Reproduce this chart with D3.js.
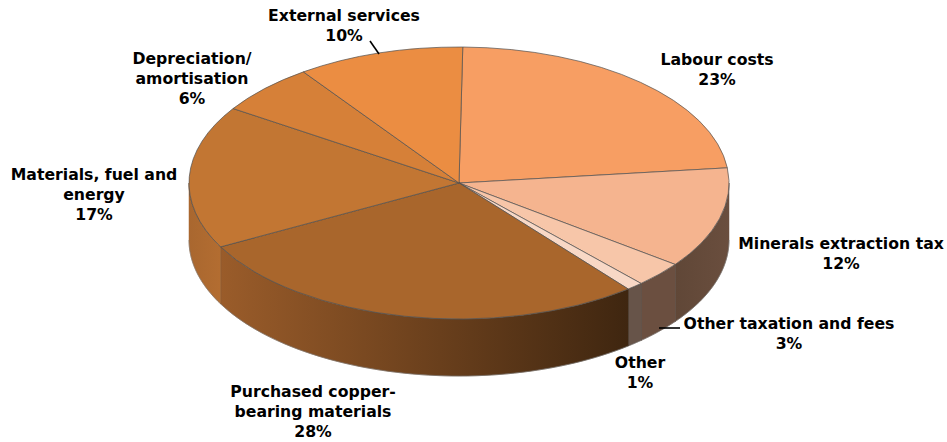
<!DOCTYPE html>
<html>
<head>
<meta charset="utf-8">
<script src="https://cdn.jsdelivr.net/npm/d3@7/dist/d3.min.js"></script>
<style>
  html, body { margin: 0; padding: 0; background: #fff; }
  svg { display: block; }
  text { font-family: "DejaVu Sans", Verdana, sans-serif; font-weight: 700; font-size: 15.7px; fill: #000; }
</style>
</head>
<body>
<svg id="chart" width="947" height="442"></svg>
<script>
// Cost structure, in percent, clockwise from the top of the disc
const categories = [
  "Labour costs", "Minerals extraction tax", "Other taxation and fees", "Other",
  "Purchased copper-bearing materials", "Materials, fuel and energy",
  "Depreciation/amortisation", "External services"
];
const shares = [23, 12, 3, 1, 28, 17, 6, 10];

const topColours = ["#F79E63", "#F5B48F", "#F7C6A9", "#F8D8C6", "#A9662C", "#C27633", "#D68038", "#EB8D42"];
const sideColours = [
  ["#654B3B", "#654B3B"], ["#604737", "#6A4E3E"], ["#6B4F40", "#6B4F40"], ["#675449", "#675449"],
  ["#9A5C2A", "#3F2610"], ["#A9672F", "#B36D31"], ["#B36D31", "#B36D31"], ["#B36D31", "#B36D31"]
];

// Label blocks: lines of text, centre x, first baseline y
const labelLines = [
  ["Labour costs", "23%"],
  ["Minerals extraction tax", "12%"],
  ["Other taxation and fees", "3%"],
  ["Other", "1%"],
  ["Purchased copper-", "bearing materials", "28%"],
  ["Materials, fuel and", "energy", "17%"],
  ["Depreciation/", "amortisation", "6%"],
  ["External services", "10%"]
];
const labelAnchors = [
  [717, 65], [841, 249], [789, 329], [640, 368],
  [313, 397], [94, 180], [192, 63.5], [344, 21]
];
const leaderLines = [
  [[370, 41], [379, 54]],
  [[659, 328], [680, 328]]
];

const cx = 459, cy = 183, rx = 270, ry = 136, depth = 57;
const lineHeight = 20;
const startAngle = 0.8 * Math.PI / 180;

const svg = d3.select("#chart");
const defs = svg.append("defs");

const pie = d3.pie().sort(null).value(d => d)
  .startAngle(startAngle).endAngle(startAngle + 2 * Math.PI);
const slices = pie(shares);

// Rim position for a clockwise angle measured from the top of the disc
const rimX = a => cx + rx * Math.sin(a);
const rimY = a => cy - ry * Math.cos(a);

const sideLayer = svg.append("g");
const frontStart = Math.PI / 2, frontEnd = 3 * Math.PI / 2;

slices.forEach((s, i) => {
  const a0 = Math.max(s.startAngle, frontStart);
  const a1 = Math.min(s.endAngle, frontEnd);
  if (a1 <= a0) return;

  const id = "side-" + i;
  defs.append("linearGradient").attr("id", id)
    .attr("gradientUnits", "userSpaceOnUse")
    .attr("x1", rimX(a1)).attr("x2", rimX(a0)).attr("y1", 0).attr("y2", 0)
    .selectAll("stop").data(sideColours[i]).join("stop")
    .attr("offset", (d, k) => k).attr("stop-color", d => d);

  const angles = d3.range(0, 61).map(k => a0 + (a1 - a0) * k / 60);
  const upper = angles.map(a => [rimX(a), rimY(a)]);
  const lower = angles.slice().reverse().map(a => [rimX(a), rimY(a) + depth]);
  const outline = d3.line()(upper.concat(lower)) + "Z";

  sideLayer.append("path").attr("d", outline)
    .attr("fill", `url(#${id})`)
    .attr("stroke", `url(#${id})`).attr("stroke-width", 0.5);

  // Curved edge along the bottom and the seam between neighbouring walls
  sideLayer.append("path").attr("d", d3.line()(lower))
    .attr("fill", "none").attr("stroke", "#777").attr("stroke-width", 0.6);
  sideLayer.append("path").attr("d", d3.line()(upper))
    .attr("fill", "none").attr("stroke", "#555").attr("stroke-width", 0.6);
  if (s.endAngle < frontEnd) {
    sideLayer.append("line")
      .attr("x1", rimX(a1)).attr("y1", rimY(a1))
      .attr("x2", rimX(a1)).attr("y2", rimY(a1) + depth)
      .attr("stroke", "#55504c").attr("stroke-width", 1);
  }
});

// Disc top: a circular arc squashed vertically into the ellipse
const arc = d3.arc().innerRadius(0).outerRadius(rx);
svg.append("g")
  .attr("transform", `translate(${cx},${cy}) scale(1,${ry / rx})`)
  .selectAll("path").data(slices).join("path")
  .attr("d", arc)
  .attr("fill", (d, i) => topColours[i])
  .attr("stroke", "#505050")
  .attr("stroke-width", 0.7)
  .attr("vector-effect", "non-scaling-stroke");

// Leader lines
svg.append("g").selectAll("path").data(leaderLines).join("path")
  .attr("d", d => d3.line()(d))
  .attr("fill", "none").attr("stroke", "#000").attr("stroke-width", 1.6);

// Category labels
const labels = svg.append("g").selectAll("text").data(labelLines).join("text")
  .attr("text-anchor", "middle")
  .attr("transform", (d, i) => `translate(${labelAnchors[i][0]},${labelAnchors[i][1]})`);
labels.selectAll("tspan").data(d => d).join("tspan")
  .attr("x", 0).attr("y", (d, k) => k * lineHeight).text(d => d);
</script>
</body>
</html>
